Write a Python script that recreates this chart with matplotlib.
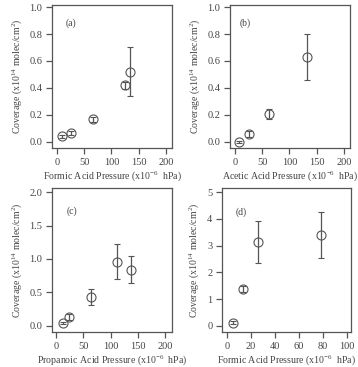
import matplotlib
matplotlib.use("Agg")
import matplotlib.pyplot as plt

plt.rcParams['font.family'] = ['Liberation Serif', 'DejaVu Serif']
plt.rcParams['mathtext.fontset'] = 'custom'
plt.rcParams['mathtext.rm'] = 'Liberation Serif'
plt.rcParams['mathtext.it'] = 'Liberation Serif:italic'

# ---- data ----
a_x = [10, 26, 67, 124, 134]
a_y = [0.042, 0.067, 0.167, 0.42, 0.52]
a_err = [0.012, 0.015, 0.02, 0.025, 0.18]

b_x = [7, 25, 62, 133]
b_y = [0.0, 0.06, 0.207, 0.63]
b_err = [0.006, 0.02, 0.04, 0.17]

c_x = [12, 24, 64, 112, 138]
c_y = [0.045, 0.135, 0.435, 0.96, 0.84]
c_err = [0.015, 0.04, 0.12, 0.26, 0.2]

d_x = [5.5, 13.3, 26, 78.5]
d_y = [0.125, 1.375, 3.14, 3.40]
d_err = [0.05, 0.1, 0.78, 0.86]

xlabels = ["Formic Acid Pressure (x10$^{-6}$  hPa)",
           "Acetic Acid Pressure (x10$^{-6}$  hPa)",
           "Propanoic Acid Pressure (x10$^{-6}$  hPa)",
           "Formic Acid Pressure (x10$^{-6}$  hPa)"]
ylabel = "Coverage (x10$^{14}$ molec/cm$^{2}$)"
panel_labels = ["(a)", "(b)", "(c)", "(d)"]

W, H = 358, 367
fig = plt.figure(figsize=(W / 100, H / 100), dpi=100)

def rect(l, r, t, b):
    return [l / W, (H - b) / H, (r - l) / W, (b - t) / H]

col = '#555555'
tcol = '#444444'
fs = 7.5
lfs = 7.1

panels = [
    dict(r=rect(52, 172, 5, 148), x=a_x, y=a_y, e=a_err, xlim=(-9, 211), ylim=(-0.045, 1.015),
         xt=[0, 50, 100, 150, 200], yt=[0.0, 0.2, 0.4, 0.6, 0.8, 1.0], yfmt="{:.1f}", lab=(0.16, 0.87)),
    dict(r=rect(230, 350, 5, 148), x=b_x, y=b_y, e=b_err, xlim=(-9, 211), ylim=(-0.045, 1.015),
         xt=[0, 50, 100, 150, 200], yt=[0.0, 0.2, 0.4, 0.6, 0.8, 1.0], yfmt="{:.1f}", lab=(0.13, 0.87)),
    dict(r=rect(52, 172, 188, 332), x=c_x, y=c_y, e=c_err, xlim=(-8, 213), ylim=(-0.09, 2.06),
         xt=[0, 50, 100, 150, 200], yt=[0.0, 0.5, 1.0, 1.5, 2.0], yfmt="{:.1f}", lab=(0.17, 0.84)),
    dict(r=rect(222, 351, 188, 332), x=d_x, y=d_y, e=d_err, xlim=(-4.1, 103.6), ylim=(-0.225, 5.15),
         xt=[0, 20, 40, 60, 80, 100], yt=[0, 1, 2, 3, 4, 5], yfmt="{:.0f}", lab=(0.15, 0.83)),
]

for i, p in enumerate(panels):
    ax = fig.add_axes(p['r'])
    ax.errorbar(p['x'], p['y'], yerr=p['e'], fmt='o', mfc='none', mec=col, mew=0.8,
                ms=6.5, ecolor=col, elinewidth=0.9, capsize=2.2, capthick=0.9)
    ax.set_xlim(*p['xlim'])
    ax.set_ylim(*p['ylim'])
    ax.set_xticks(p['xt'])
    ax.set_yticks(p['yt'])
    ax.set_yticklabels([p['yfmt'].format(v) for v in p['yt']])
    for s in ax.spines.values():
        s.set_color(col)
        s.set_linewidth(0.9)
    ax.tick_params(direction='out', length=4.5, width=0.9, color=col, labelcolor=tcol,
                   labelsize=fs)
    ax.tick_params(axis='x', pad=2.5)
    ax.tick_params(axis='y', pad=2.5)
    ax.set_xlabel(xlabels[i], fontsize=lfs, color=tcol, labelpad=1.5)
    ax.set_ylabel(ylabel, fontsize=lfs, color=tcol, labelpad=4)
    ax.text(p['lab'][0], p['lab'][1], panel_labels[i], transform=ax.transAxes,
            fontsize=fs - 0.5, color=tcol, ha='center', va='center')

fig.savefig("out.png", dpi=100)
